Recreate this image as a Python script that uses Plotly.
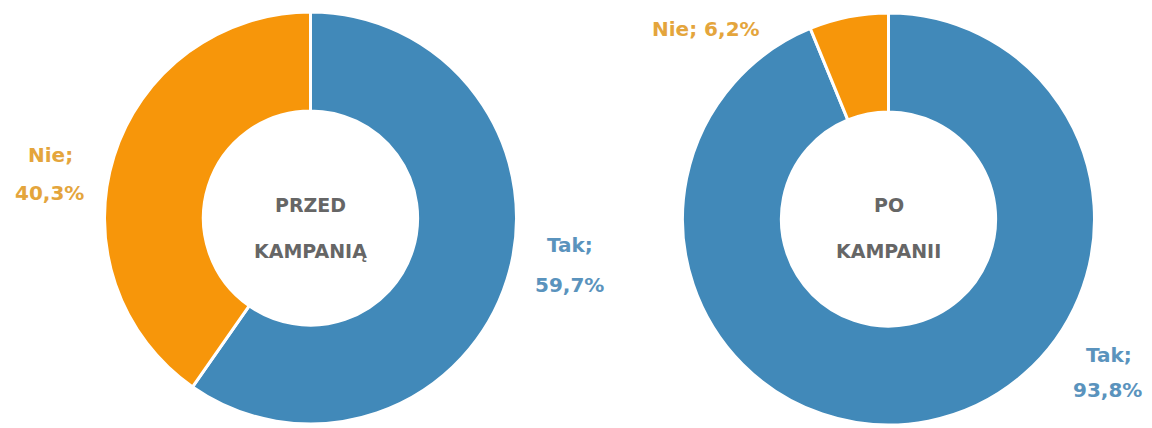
import plotly.graph_objects as go

categories = ["Tak", "Nie"]
before_values = [59.7, 40.3]
after_values = [93.8, 6.2]
center_titles = [["PRZED", "KAMPANIĄ"], ["PO", "KAMPANII"]]

colors = ["#4189B9", "#F7960A"]
label_colors = ["#5A93BD", "#E4A53C"]

W, H = 1152, 428
OFF = 8  # page body margin offset


def fmt(v):
    return f"{v:.1f}".replace(".", ",") + "%"


def px(x):
    return (x - OFF) / W


def py(y):
    return 1 - (y - OFF) / H


R = 206
pie_centers = [(310.5, 218), (888.5, 219)]

fig = go.Figure()
for vals, (cx, cy) in zip([before_values, after_values], pie_centers):
    dom = dict(x=[px(cx - R), px(cx + R)], y=[py(cy + R), py(cy - R)])
    fig.add_trace(go.Pie(
        labels=categories, values=vals, hole=0.52, sort=False,
        direction="clockwise", rotation=0, domain=dom,
        marker=dict(colors=colors, line=dict(color="white", width=3)),
        textinfo="none", showlegend=False, hoverinfo="label+percent",
    ))

ann = []
for (cx, cy), lines in zip(pie_centers, center_titles):
    for txt, y in zip(lines, [205, 251]):
        ann.append(dict(
            x=px(cx), y=py(y), xref="paper", yref="paper", showarrow=False,
            text=f"<b>{txt}</b>",
            font=dict(family="DejaVu Sans", size=19, color="#666666"),
            xanchor="center", yanchor="middle",
        ))

# label line positions: (x, y) for category line and value line
label_pos = [
    {"Tak": [(570, 245), (569, 285)], "Nie": [(50, 155), (49, 193)]},
    {"Tak": [(1109, 355), (1107, 390)], "Nie": [(706, 29)]},
]
for vals, poss in zip([before_values, after_values], label_pos):
    for i, cat in enumerate(categories):
        p = poss[cat]
        if len(p) == 2:
            texts = [cat + ";", fmt(vals[i])]
        else:
            texts = [cat + "; " + fmt(vals[i])]
        for (x, y), t in zip(p, texts):
            ann.append(dict(
                x=px(x), y=py(y), xref="paper", yref="paper", showarrow=False,
                text=f"<b>{t}</b>",
                font=dict(family="DejaVu Sans", size=20, color=label_colors[i]),
                xanchor="center", yanchor="middle",
            ))

fig.update_layout(
    width=W, height=H, margin=dict(l=0, r=0, t=0, b=0),
    paper_bgcolor="white", plot_bgcolor="white",
    annotations=ann,
)
fig.write_html("out.html")
